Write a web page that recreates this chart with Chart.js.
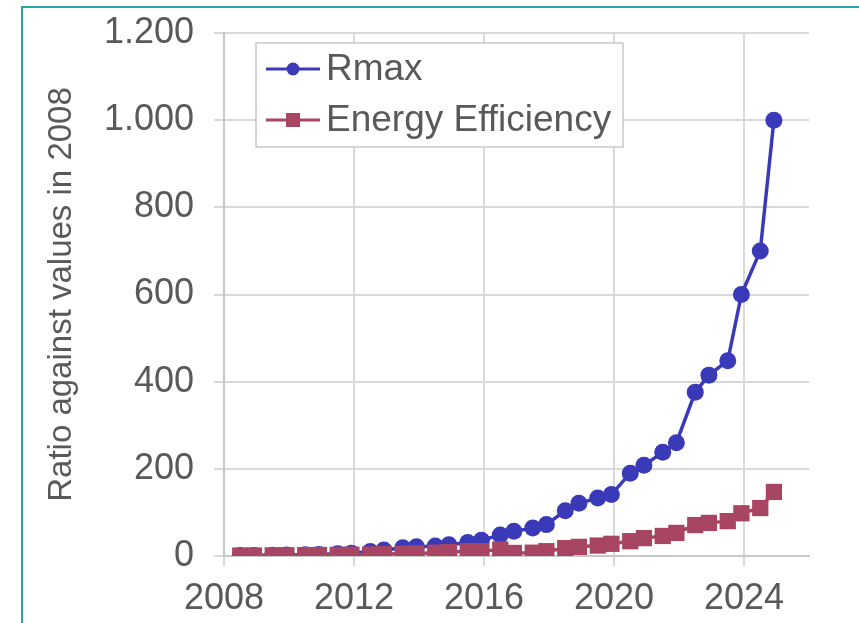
<!DOCTYPE html>
<html>
<head>
<meta charset="utf-8">
<script src="https://cdn.jsdelivr.net/npm/chart.js@4/dist/chart.umd.min.js"></script>
<style>
  body { margin: 0; background: #fff; overflow: hidden; }
  #frame { position: absolute; left: 21px; top: 6px; width: 900px; height: 700px; border: 2px solid #2ba6a6; }
  #chart-area { position: absolute; left: 0; top: 0; width: 859px; height: 623px; }
</style>
</head>
<body>
<div id="frame"></div>
<div id="chart-area"></div>
<script>
// TOP500 lists, June / November, as fractional years
const listDates = [2008.5, 2008.92, 2009.5, 2009.92, 2010.5, 2010.92, 2011.5, 2011.92,
  2012.5, 2012.92, 2013.5, 2013.92, 2014.5, 2014.92, 2015.5, 2015.92, 2016.5, 2016.92,
  2017.5, 2017.92, 2018.5, 2018.92, 2019.5, 2019.92, 2020.5, 2020.92, 2021.5, 2021.92,
  2022.5, 2022.92, 2023.5, 2023.92, 2024.5, 2024.92];
const rmax = [1, 1.4, 1.9, 2.4, 2.8, 3.7, 5, 6.3, 10.5, 14, 19, 21, 23, 26, 31, 36, 48, 57,
  64, 72, 104, 121, 133, 141, 190, 208, 238, 260, 376, 415, 448, 600, 700, 1000];
const energyEfficiency = [1, 1.2, 1.5, 1.7, 2, 2.3, 2.6, 3, 3.6, 4.5, 5.2, 6, 7.6, 9, 11, 11,
  15, 7, 7.6, 11, 18, 21, 24, 28, 34, 41, 46, 53, 71, 76, 80, 98, 110, 147];
const yearTicks = [2008, 2012, 2016, 2020, 2024];
const seriesNames = ['Rmax', 'Energy Efficiency'];
const yTitle = 'Ratio against values in 2008';

const FONT = '"Liberation Sans", Arial, sans-serif';
const TEXT = '#595959';
const BLUE = '#3a3ab9';
const MAROON = '#a74562';

const toPoints = (vals) => vals.map((v, i) => ({ x: listDates[i], y: v }));

const fmtThousands = (v) => v >= 1000
  ? Math.floor(v / 1000) + '.' + String(v % 1000).padStart(3, '0')
  : String(v);

// legend with line + marker samples, drawn inside the plot
const boxLegend = {
  id: 'boxLegend',
  afterDraw(chart) {
    const ctx = chart.ctx;
    const x0 = 256, y0 = 43, w = 367, h = 104;
    ctx.save();
    ctx.fillStyle = '#fff';
    ctx.fillRect(x0, y0, w, h);
    ctx.strokeStyle = '#c8c8c8';
    ctx.lineWidth = 1.5;
    ctx.strokeRect(x0, y0, w, h);
    chart.data.datasets.forEach((ds, i) => {
      const y = 69 + i * 51;
      ctx.strokeStyle = ds.borderColor;
      ctx.lineWidth = 3;
      ctx.beginPath();
      ctx.moveTo(266, y);
      ctx.lineTo(320, y);
      ctx.stroke();
      ctx.fillStyle = ds.backgroundColor;
      if (ds.pointStyle === 'rect') {
        ctx.fillRect(286, y - 7, 14, 14);
      } else {
        ctx.beginPath();
        ctx.arc(293, y, 6.5, 0, Math.PI * 2);
        ctx.fill();
      }
      ctx.fillStyle = TEXT;
      ctx.font = '37px ' + FONT;
      ctx.textBaseline = 'middle';
      ctx.fillText(ds.label, 326, y + 1);
    });
    ctx.restore();
  }
};

const loadChart = function () {
  const canvas = document.createElement('canvas');
  canvas.width = 859;
  canvas.height = 623;
  document.getElementById('chart-area').appendChild(canvas);

  new Chart(canvas, {
    type: 'line',
    data: {
      datasets: [{
        label: seriesNames[0],
        data: toPoints(rmax),
        borderColor: BLUE,
        backgroundColor: BLUE,
        borderWidth: 3.5,
        pointStyle: 'circle',
        pointRadius: 8.5,
        pointBorderWidth: 0,
        order: 2
      }, {
        label: seriesNames[1],
        data: toPoints(energyEfficiency),
        borderColor: MAROON,
        backgroundColor: MAROON,
        borderWidth: 3.5,
        pointStyle: 'rect',
        pointRadius: 11.5,
        pointBorderWidth: 0,
        order: 1
      }]
    },
    options: {
      responsive: false,
      animation: false,
      layout: { padding: { left: 30, top: 33, right: 50, bottom: 0 } },
      plugins: { legend: { display: false }, tooltip: { enabled: false } },
      scales: {
        x: {
          type: 'linear',
          min: 2008,
          max: 2026,
          afterBuildTicks: (scale) => { scale.ticks = yearTicks.map(v => ({ value: v })); },
          afterFit: (scale) => {
            scale.height = 67;
            scale.paddingLeft = 0;
            scale.paddingRight = 0;
          },
          grid: { color: '#d9d9d9', lineWidth: 2, tickLength: 10, tickColor: '#d9d9d9' },
          border: { color: '#c8c8c8', width: 2 },
          ticks: {
            color: TEXT,
            font: { family: FONT, size: 36 },
            padding: 11,
            maxRotation: 0,
            callback: (v) => String(v)
          }
        },
        y: {
          min: 0,
          max: 1200,
          afterFit: (scale) => {
            scale.width = 194;
            scale.paddingTop = 0;
            scale.paddingBottom = 0;
          },
          grid: { color: '#d9d9d9', lineWidth: 2, tickLength: 10, tickColor: '#d9d9d9' },
          border: { color: '#c8c8c8', width: 2 },
          ticks: {
            stepSize: 200,
            color: TEXT,
            font: { family: FONT, size: 36 },
            padding: 20,
            callback: (v) => fmtThousands(v)
          },
          title: {
            display: true,
            text: yTitle,
            color: TEXT,
            font: { family: FONT, size: 33 },
            padding: { top: 12, bottom: 0 }
          }
        }
      }
    },
    plugins: [boxLegend]
  });
};

loadChart();
</script>
</body>
</html>
